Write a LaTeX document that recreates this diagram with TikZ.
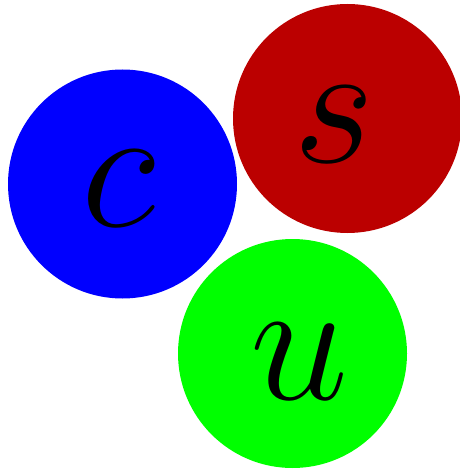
\RequirePackage{fix-cm}
\documentclass[tikz,border=0pt]{standalone}
\definecolor{qblue}{RGB}{0,0,255}
\definecolor{qred}{RGB}{187,0,0}
\definecolor{qgreen}{RGB}{0,255,0}
\begin{document}
\begin{tikzpicture}[x=1pt,y=-1pt,
  quark/.style={circle,minimum size=229pt,inner sep=0pt,draw=none},
  flav/.style={font=\fontsize{176}{176}\selectfont,anchor=base,inner sep=0pt}]
\useasboundingbox (0,0) rectangle (459,470);
\node[quark,fill=qblue]  (c) at (122.5,184) {};
\node[quark,fill=qred]   (s) at (347.5,118.5) {};
\node[quark,fill=qgreen] (u) at (292.5,353.5) {};
\node[flav] (cl) at (119,226) {$c$};
\node[flav] (sl) at (334.5,163) {$s$};
\node[flav] (ul) at (300,399) {$u$};
\end{tikzpicture}
\end{document}
